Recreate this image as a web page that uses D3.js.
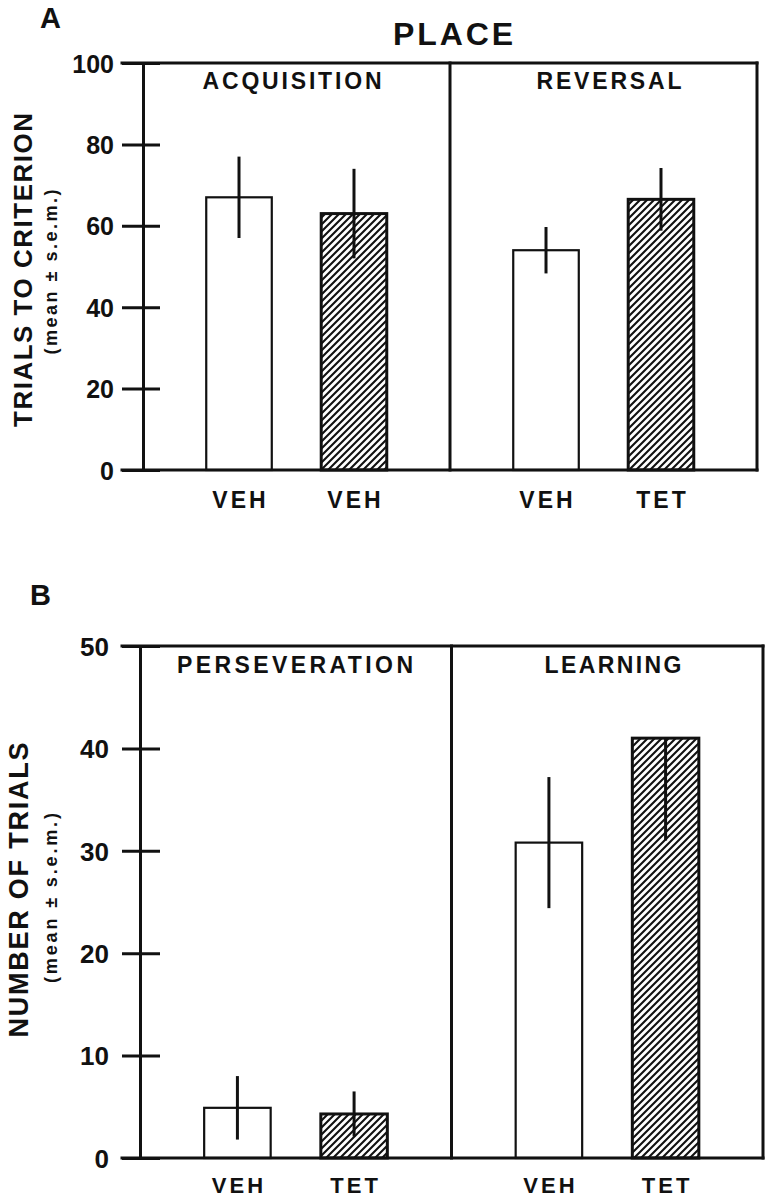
<!DOCTYPE html>
<html><head><meta charset="utf-8">
<script src="https://cdn.jsdelivr.net/npm/d3@7"></script>
<style>
body{margin:0;background:#fff}
svg{display:block;background:#fff}
text{font-family:"Liberation Sans",Arial,Helvetica,sans-serif;font-weight:bold;fill:#111}
</style>
</head><body>
<svg id="c" width="773" height="1199"></svg>
<script>
// ---------- DATA ----------
const groupsA = ["ACQUISITION", "REVERSAL"];
const labelsA = ["VEH", "VEH", "VEH", "TET"];
const meansA = [67, 63, 54, 66.5];
const semA = [10, 11, 5.7, 7.7];
const hatchA = [false, true, false, true];
const ticksA = [0, 20, 40, 60, 80, 100];

const groupsB = ["PERSEVERATION", "LEARNING"];
const labelsB = ["VEH", "TET", "VEH", "TET"];
const meansB = [4.9, 4.3, 30.8, 41];
const semB = [3.1, 2.2, 6.4, 10];
const upperErrShownB = [true, true, true, false];
const hatchB = [false, true, false, true];
const ticksB = [0, 10, 20, 30, 40, 50];

// ---------- DRAW ----------
const svg = d3.select("#c");
const INK = "#111";

const defs = svg.append("defs");
const P = 7;
const pat = defs.append("pattern").attr("id", "hatch")
  .attr("patternUnits", "userSpaceOnUse").attr("width", P).attr("height", P);
pat.append("rect").attr("width", P).attr("height", P).attr("fill", "#fff");
pat.append("path").attr("d", `M-1,1 L1,-1 M0,${P} L${P},0 M${P-1},${P+1} L${P+1},${P-1}`)
  .attr("stroke", INK).attr("stroke-width", 2.1);

function drawPanel(p) {
  const g = svg.append("g");
  const y = d3.scaleLinear().domain([0, d3.max(p.ticks)]).range([p.yBottom, p.yTop]);
  const outer = d3.scaleBand().domain(p.groups).range([p.axisX, p.rightX]);
  const inner = d3.scaleBand().domain([0, 1]).range([0, outer.bandwidth()])
    .paddingInner(0.43).paddingOuter(0.55);
  const bw = inner.bandwidth();
  const xOf = i => outer(p.groups[Math.floor(i / 2)]) + inner(i % 2);

  const rows = p.means.map((m, i) => ({
    m, i, e: p.sem[i], h: p.hatch[i], up: p.upper ? p.upper[i] : true, lab: p.labels[i]
  }));

  // bars
  g.selectAll("rect.bar").data(rows).join("rect").attr("class", "bar")
    .attr("x", d => xOf(d.i)).attr("width", bw)
    .attr("y", d => y(d.m)).attr("height", d => y(0) - y(d.m))
    .attr("fill", d => d.h ? "url(#hatch)" : "#fff")
    .attr("stroke", INK).attr("stroke-width", d => d.h ? 3 : 2.2);

  // error bars
  g.selectAll("line.err").data(rows).join("line").attr("class", "err")
    .attr("x1", d => xOf(d.i) + bw / 2).attr("x2", d => xOf(d.i) + bw / 2)
    .attr("y1", d => y(d.m - d.e)).attr("y2", d => d.up ? y(d.m + d.e) : y(d.m))
    .attr("stroke", INK).attr("stroke-width", 3);

  // y axis
  const tickOut = p.axisX - p.tickL;
  const ax = g.append("g").attr("transform", `translate(${p.axisX},0)`)
    .call(d3.axisLeft(y).tickValues(p.ticks).tickSizeInner(tickOut).tickSizeOuter(0)
      .tickPadding(p.axisX - p.labelRight - tickOut));
  ax.select(".domain").attr("stroke", INK).attr("stroke-width", 3);
  ax.selectAll(".tick line").attr("stroke", INK).attr("stroke-width", 3)
    .attr("x1", p.tickR - p.axisX);
  ax.selectAll(".tick text").attr("font-size", p.tickFont).attr("fill", INK)
    .attr("font-family", "'Liberation Sans', Arial, sans-serif").attr("font-weight", "bold")
    .attr("dy", "0.36em");

  // frame
  const frame = [
    [p.tickL, y(d3.max(p.ticks)), p.rightX, y(d3.max(p.ticks))],
    [p.rightX, y(d3.max(p.ticks)), p.rightX, y(0)],
    [outer(p.groups[1]), y(d3.max(p.ticks)), outer(p.groups[1]), y(0)],
    [p.tickL, y(0), p.rightX, y(0)]
  ];
  g.selectAll("line.frame").data(frame).join("line").attr("class", "frame")
    .attr("x1", d => d[0]).attr("y1", d => d[1]).attr("x2", d => d[2]).attr("y2", d => d[3])
    .attr("stroke", INK).attr("stroke-width", 3).attr("stroke-linecap", "square");

  // group titles
  g.selectAll("text.grp").data(p.groups).join("text").attr("class", "grp")
    .attr("x", (d, k) => p.grpX[k]).attr("y", p.grpY)
    .attr("text-anchor", "middle").attr("font-size", 23)
    .attr("textLength", (d, k) => p.grpLen[k]).attr("lengthAdjust", "spacing")
    .text(d => d);

  // category labels
  g.selectAll("text.cat").data(rows).join("text").attr("class", "cat")
    .attr("x", d => xOf(d.i) + bw / 2 + 1.5).attr("y", p.catY)
    .attr("text-anchor", "middle").attr("font-size", p.catFont)
    .attr("letter-spacing", "3px")
    .text(d => d.lab);

  // y titles
  g.append("text").attr("transform", `translate(${p.titleX},${p.titleYc}) rotate(-90)`)
    .attr("text-anchor", "middle").attr("font-size", p.titleFont)
    .attr("textLength", p.titleLen).attr("lengthAdjust", "spacing").text(p.title);
  g.append("text").attr("transform", `translate(${p.subX},${p.subYc}) rotate(-90)`)
    .attr("text-anchor", "middle").attr("font-size", 18)
    .attr("textLength", p.subLen).attr("lengthAdjust", "spacing").text("(mean ± s.e.m.)");

  // panel letter
  g.append("text").attr("x", p.letterX).attr("y", p.letterY).attr("font-size", 29).text(p.letter);
}

drawPanel({
  groups: groupsA, labels: labelsA, means: meansA, sem: semA, hatch: hatchA, ticks: ticksA,
  axisX: 143, rightX: 757, yBottom: 470, yTop: 63, tickL: 122, tickR: 160, labelRight: 114,
  tickFont: 25, grpX: [292, 609], grpY: 89, grpLen: [179, 145],
  catY: 508, catFont: 23,
  title: "TRIALS TO CRITERION", titleX: 32, titleYc: 270, titleLen: 314, titleFont: 26,
  subX: 57, subYc: 272, subLen: 165, letter: "A", letterX: 40, letterY: 28
});

drawPanel({
  groups: groupsB, labels: labelsB, means: meansB, sem: semB, hatch: hatchB, ticks: ticksB,
  upper: upperErrShownB,
  axisX: 140, rightX: 763, yBottom: 1158, yTop: 646, tickL: 122, tickR: 160, labelRight: 109,
  tickFont: 26, grpX: [295, 613], grpY: 673, grpLen: [236, 137],
  catY: 1193, catFont: 22,
  title: "NUMBER OF TRIALS", titleX: 28, titleYc: 890, titleLen: 295, titleFont: 27,
  subX: 57, subYc: 898, subLen: 170, letter: "B", letterX: 30, letterY: 605
});

// main title
svg.append("text").attr("x", 453).attr("y", 45).attr("text-anchor", "middle")
  .attr("font-size", 32).attr("textLength", 120).attr("lengthAdjust", "spacing").text("PLACE");
</script>
</body></html>
